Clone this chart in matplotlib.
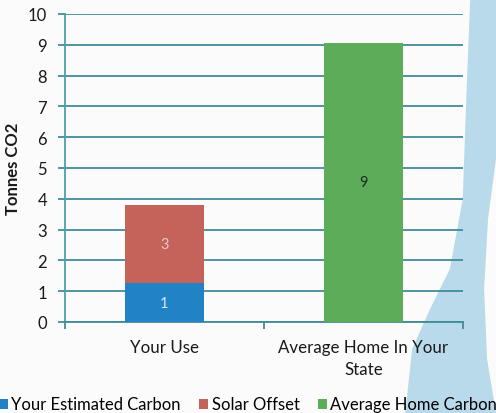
import matplotlib.pyplot as plt
from matplotlib.patches import Polygon
import numpy as np

categories = ['Your Use', 'Average Home In Your\nState']
estimated = [1.25, 0.0]
solar = [2.55, 0.0]
avg_home = [0.0, 9.07]
estimated_labels = ['1', '']
solar_labels = ['3', '']
avg_labels = ['', '9']

plt.rcParams['font.family'] = ['Lato', 'DejaVu Sans']

fig = plt.figure(figsize=(4.96, 4.14), dpi=100)
fig.patch.set_facecolor('#fbfbfb')

# light blue decorative band on the right edge of the page
sweep = Polygon([(0.948, 1.0), (0.940, 0.758), (0.933, 0.517), (0.907, 0.348),
                 (0.867, 0.251), (0.831, 0.155), (0.817, 0.0),
                 (1.0, 0.0), (0.982, 0.130), (0.976, 0.300), (0.984, 0.469),
                 (1.0, 0.614), (1.0, 1.0)],
                closed=True, transform=fig.transFigure, facecolor='#b8daeb',
                edgecolor='none', zorder=0)
fig.patches.append(sweep)

ax = fig.add_axes([0.131, 0.22, 0.802, 0.744])
ax.set_facecolor('none')
ax.set_zorder(2)

x = np.arange(len(categories))
width = 0.4
b1 = ax.bar(x, estimated, width, color='#2183c6', label='Your Estimated Carbon', zorder=3)
b2 = ax.bar(x, solar, width, bottom=estimated, color='#c4635a', label='Solar Offset', zorder=3)
b3 = ax.bar(x, avg_home, width, color='#5cac5a', label='Average Home Carbon', zorder=3)

for i in range(len(categories)):
    if estimated_labels[i]:
        ax.text(x[i], estimated[i] / 2, estimated_labels[i], ha='center', va='center',
                color='#d8e8f4', fontsize=10.5, zorder=4)
    if solar_labels[i]:
        ax.text(x[i], estimated[i] + solar[i] / 2, solar_labels[i], ha='center', va='center',
                color='#ecc8c2', fontsize=10.5, zorder=4)
    if avg_labels[i]:
        ax.text(x[i], avg_home[i] / 2, avg_labels[i], ha='center', va='center',
                color='#1e2a20', fontsize=10.5, zorder=4)

ax.set_xlim(-0.5, 1.5)
ax.set_ylim(0, 10)
ax.set_yticks(range(0, 11))
ax.yaxis.grid(True, color='#3f8c98', linewidth=1.3, zorder=1)
ax.set_axisbelow(True)

for s in ['top', 'right']:
    ax.spines[s].set_visible(False)
ax.spines['left'].set_color('#4aa0a8')
ax.spines['left'].set_linewidth(1.3)
ax.spines['bottom'].set_color('#3f8c98')
ax.spines['bottom'].set_linewidth(1.3)

ax.set_xticks([-0.5, 0.5, 1.5], minor=True)
ax.set_xticks(x)
ax.set_xticklabels(categories, fontsize=12.2, color='#1a1a1a', linespacing=1.5)
ax.tick_params(axis='x', which='major', length=0, pad=12)
ax.tick_params(axis='x', which='minor', length=5, color='#3f8c98', width=1.3)
ax.tick_params(axis='y', length=5, color='#3f8c98', width=1.3, labelsize=12,
               labelcolor='#1a1a1a', pad=8)

ax.set_ylabel('Tonnes CO2', fontsize=12, fontweight='bold', color='#1a1a1a', labelpad=5)

leg = fig.legend(handles=[b1, b2, b3], loc='lower center', bbox_to_anchor=(0.5, -0.035), ncol=3,
                 frameon=False, fontsize=12, handlelength=0.55, handleheight=0.55,
                 handletextpad=0.2, columnspacing=1.1)
leg.set_zorder(5)

fig.savefig('out.png', dpi=100, facecolor=fig.get_facecolor())
